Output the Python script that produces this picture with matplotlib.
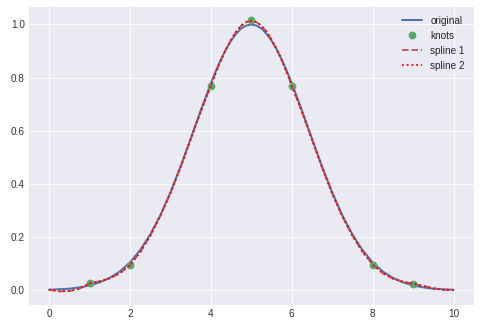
import numpy as np
import matplotlib
matplotlib.use("Agg")
from matplotlib import pyplot as plt

# sample positions (step 0.25, finer near the peak)
x = [0.0, 0.25, 0.5, 0.75, 1.0, 1.25, 1.5, 1.75, 2.0, 2.25, 2.5, 2.75, 3.0, 3.25,
     3.5, 3.75, 4.0, 4.125, 4.25, 4.375, 4.5, 4.625, 4.75, 4.875, 5.0,
     5.125, 5.25, 5.375, 5.5, 5.625, 5.75, 5.875, 6.0, 6.25, 6.5, 6.75,
     7.0, 7.25, 7.5, 7.75, 8.0, 8.25, 8.5, 8.75, 9.0, 9.25, 9.5, 9.75, 10.0]

original = [0.002, 0.004, 0.006, 0.011, 0.018, 0.030, 0.047, 0.071, 0.105, 0.151,
            0.210, 0.282, 0.368, 0.465, 0.570, 0.677, 0.779, 0.826, 0.869, 0.907,
            0.939, 0.965, 0.985, 0.996, 1.000, 0.996, 0.985, 0.965, 0.939, 0.907,
            0.869, 0.826, 0.779, 0.677, 0.570, 0.465, 0.368, 0.282,
            0.210, 0.151, 0.105, 0.071, 0.047, 0.030, 0.018, 0.011, 0.006, 0.004, 0.002]

knots_x = [1, 2, 4, 5, 6, 8, 9]
knots_y = [0.026, 0.095, 0.770, 1.015, 0.770, 0.097, 0.025]

spline1 = [0.002, -0.004, -0.003, 0.006, 0.026, 0.034, 0.045, 0.064, 0.095, 0.143,
           0.205, 0.280, 0.366, 0.463, 0.568, 0.673, 0.770, 0.820, 0.866, 0.907,
           0.943, 0.973, 0.995, 1.009, 1.014, 1.009, 0.995, 0.973, 0.943, 0.907,
           0.866, 0.820, 0.770, 0.672, 0.567, 0.462, 0.364, 0.278,
           0.205, 0.145, 0.097, 0.064, 0.044, 0.032, 0.025, 0.017, 0.008, 0.002, 0.001]

spline2 = [0.003, -0.003, -0.003, 0.006, 0.026, 0.034, 0.045, 0.064, 0.095, 0.143,
           0.205, 0.280, 0.366, 0.463, 0.568, 0.673, 0.770, 0.820, 0.866, 0.907,
           0.943, 0.973, 0.995, 1.009, 1.014, 1.009, 0.995, 0.973, 0.943, 0.907,
           0.866, 0.820, 0.770, 0.672, 0.567, 0.462, 0.364, 0.278,
           0.205, 0.145, 0.097, 0.064, 0.044, 0.032, 0.025, 0.016, 0.007, 0.001, 0.001]

plt.style.use("seaborn-v0_8-darkgrid")
plt.rcParams["font.family"] = ["Liberation Sans", "DejaVu Sans"]

fig, ax = plt.subplots(figsize=(481 / 80, 330 / 80), dpi=80)
fig.subplots_adjust(left=0.06, right=0.985, top=0.979, bottom=0.076)

ax.plot(x, original, '-', color='#4C72B0', lw=1.8, label="original")
ax.plot(knots_x, knots_y, 'o', color='#55A868', ms=6, label="knots")
ax.plot(x, spline1, '--', color='#C44E52', lw=1.6, label="spline 1")
ax.plot(x, spline2, ':', color='red', lw=1.6, label="spline 2")

ax.tick_params(labelsize=9, colors='#333333')
ax.legend(loc="upper right", fontsize=9)

fig.savefig("out.png", dpi=80)
